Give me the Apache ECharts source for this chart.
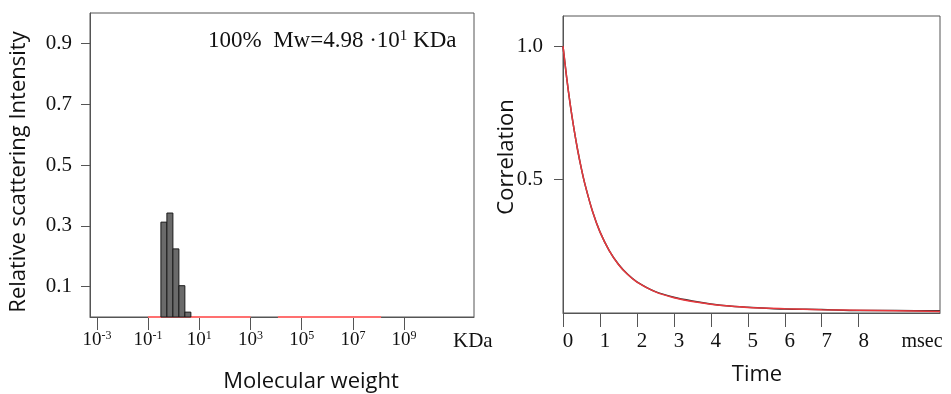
<!DOCTYPE html>
<html>
<head>
<meta charset="utf-8">
<script src="https://cdn.jsdelivr.net/npm/echarts@6/dist/echarts.min.js"></script>
<style>html,body{margin:0;padding:0;background:#fff;}#c{width:951px;height:394px;}</style>
</head>
<body>
<div id="c"></div>
<script>
// ---- Left panel: molecular weight distribution (x in log10 KDa) ----
const mwBinEdgesLog = [-0.50, -0.266, -0.032, 0.202, 0.436, 0.67];
const intensity = [0.312, 0.342, 0.224, 0.103, 0.016];
const mwTickExp = [-3, -1, 1, 3, 5, 7, 9];
const intensityTicks = [0.1, 0.3, 0.5, 0.7, 0.9];
const baselineSegA = [[-1, 0], [3, 0]];
const baselineSegB = [[4.07, 0], [8.1, 0]];

// ---- Right panel: correlation function ----
const timeMs =       [0, 0.1, 0.2, 0.3, 0.4, 0.5, 0.6, 0.8, 1.0, 1.25, 1.5, 1.75, 2.0, 2.5, 3.0, 3.5, 4.0, 4.5, 5.0, 6.0, 7.0, 8.0, 9.0, 10.2];
const corrFit =      [1.0, 0.881, 0.777, 0.687, 0.608, 0.539, 0.479, 0.380, 0.304, 0.234, 0.182, 0.144, 0.116, 0.079, 0.057, 0.043, 0.033, 0.026, 0.021, 0.016, 0.012, 0.010, 0.008, 0.006];
const corrMeasured = [1.0, 0.881, 0.777, 0.687, 0.608, 0.539, 0.479, 0.380, 0.304, 0.234, 0.183, 0.145, 0.117, 0.080, 0.059, 0.045, 0.034, 0.026, 0.022, 0.015, 0.013, 0.009, 0.009, 0.008];
const timeTicks = [0, 1, 2, 3, 4, 5, 6, 7, 8];
const corrTicks = [0.5, 1.0];

const serif = '"Liberation Serif", "DejaVu Serif", serif';
const sans = '"Open Sans", "Noto Sans", sans-serif';
const axisCol = '#555';

const bins = intensity.map((v, i) => [mwBinEdgesLog[i], mwBinEdgesLog[i + 1], v]);

const chart = echarts.init(document.getElementById('c'), null, {renderer: 'canvas'});
chart.setOption({
  animation: false,
  backgroundColor: '#fff',
  grid: [
    {left: 90, right: 477, top: 13, bottom: 77, show: true, borderColor: axisCol, borderWidth: 1, backgroundColor: 'transparent'},
    {left: 563, right: 11, top: 16, bottom: 81, show: true, borderColor: axisCol, borderWidth: 1, backgroundColor: 'transparent'}
  ],
  xAxis: [
    {
      type: 'value', gridIndex: 0, min: -3.27, max: 11.73,
      splitLine: {show: false},
      axisLine: {show: true, onZero: false, lineStyle: {color: axisCol, width: 1}},
      axisTick: {show: true, length: 13, customValues: mwTickExp, lineStyle: {color: axisCol}},
      axisLabel: {
        customValues: mwTickExp, margin: 13,
        formatter: v => '{b|10}{s|' + Math.round(v) + '}',
        rich: {
          b: {fontFamily: serif, fontSize: 19, color: '#111', lineHeight: 20},
          s: {fontFamily: serif, fontSize: 12, color: '#111', lineHeight: 12, verticalAlign: 'top'}
        }
      }
    },
    {
      type: 'value', gridIndex: 1, min: 0, max: 10.2,
      splitLine: {show: false},
      axisLine: {show: true, onZero: false, lineStyle: {color: axisCol, width: 1}},
      axisTick: {show: true, length: 14, customValues: timeTicks, lineStyle: {color: axisCol}},
      axisLabel: {customValues: timeTicks, margin: 18, padding: [0, 0, 0, 10], fontFamily: serif, fontSize: 21, color: '#111'}
    }
  ],
  yAxis: [
    {
      type: 'value', gridIndex: 0, min: 0, max: 1.0,
      splitLine: {show: false},
      axisLine: {show: true, onZero: false, lineStyle: {color: axisCol, width: 1}},
      axisTick: {show: true, length: 9, customValues: intensityTicks, lineStyle: {color: axisCol}},
      axisLabel: {customValues: intensityTicks, margin: 18, fontFamily: serif, fontSize: 21, color: '#111', formatter: v => v.toFixed(1)}
    },
    {
      type: 'value', gridIndex: 1, min: 0, max: 1.113,
      splitLine: {show: false},
      axisLine: {show: true, onZero: false, lineStyle: {color: axisCol, width: 1}},
      axisTick: {show: true, length: 9, customValues: corrTicks, lineStyle: {color: axisCol}},
      axisLabel: {customValues: corrTicks, margin: 20, fontFamily: serif, fontSize: 21, color: '#111', formatter: v => v.toFixed(1)}
    }
  ],
  series: [
    {type: 'line', xAxisIndex: 0, yAxisIndex: 0, data: baselineSegA, symbol: 'none', lineStyle: {color: '#ff7070', width: 2}, z: 3},
    {type: 'line', xAxisIndex: 0, yAxisIndex: 0, data: baselineSegB, symbol: 'none', lineStyle: {color: '#ff7070', width: 2}, z: 3},
    {
      type: 'custom', xAxisIndex: 0, yAxisIndex: 0, data: bins, z: 4,
      encode: {x: [0, 1], y: 2},
      renderItem: (params, api) => {
        const p0 = api.coord([api.value(0), api.value(2)]);
        const p1 = api.coord([api.value(1), 0]);
        return {type: 'rect', shape: {x: p0[0], y: p0[1], width: p1[0] - p0[0], height: p1[1] - p0[1]},
                style: {fill: '#6a6a6a', stroke: '#1a1a1a', lineWidth: 1}};
      }
    },
    {type: 'line', xAxisIndex: 1, yAxisIndex: 1, data: timeMs.map((t, i) => [t, corrMeasured[i]]), symbol: 'none', smooth: 0.3, lineStyle: {color: '#333', width: 1.5}, z: 3},
    {type: 'line', xAxisIndex: 1, yAxisIndex: 1, data: timeMs.map((t, i) => [t, corrFit[i]]), symbol: 'none', smooth: 0.3, lineStyle: {color: '#e8383d', width: 1.5}, z: 4}
  ],
  graphic: [
    {type: 'text', left: 208, top: 29, style: {
      text: '100%  Mw=4.98 ·10{s|1} KDa', fontFamily: serif, fontSize: 23, fill: '#111',
      rich: {s: {fontFamily: serif, fontSize: 15, fill: '#111', verticalAlign: 'top', lineHeight: 15}}
    }},
    {type: 'text', x: 453, y: 341, style: {text: 'KDa', fontFamily: serif, fontSize: 21, fill: '#111', textVerticalAlign: 'middle'}},
    {type: 'text', x: 922, y: 342, style: {text: 'msec', fontFamily: serif, fontSize: 20, fill: '#111', textAlign: 'center', textVerticalAlign: 'middle'}},
    {type: 'text', x: 311, y: 382, style: {text: 'Molecular weight', fontFamily: sans, fontSize: 22, fill: '#111', textAlign: 'center', textVerticalAlign: 'middle'}},
    {type: 'text', x: 757, y: 375, style: {text: 'Time', fontFamily: sans, fontSize: 22, fill: '#111', textAlign: 'center', textVerticalAlign: 'middle'}},
    {type: 'text', x: 19, y: 172, rotation: Math.PI / 2, style: {text: 'Relative scattering Intensity', fontFamily: sans, fontSize: 22, fill: '#111', textAlign: 'center', textVerticalAlign: 'middle'}},
    {type: 'text', x: 507, y: 157, rotation: Math.PI / 2, style: {text: 'Correlation', fontFamily: sans, fontSize: 22, fill: '#111', textAlign: 'center', textVerticalAlign: 'middle'}}
  ]
});
</script>
</body>
</html>
